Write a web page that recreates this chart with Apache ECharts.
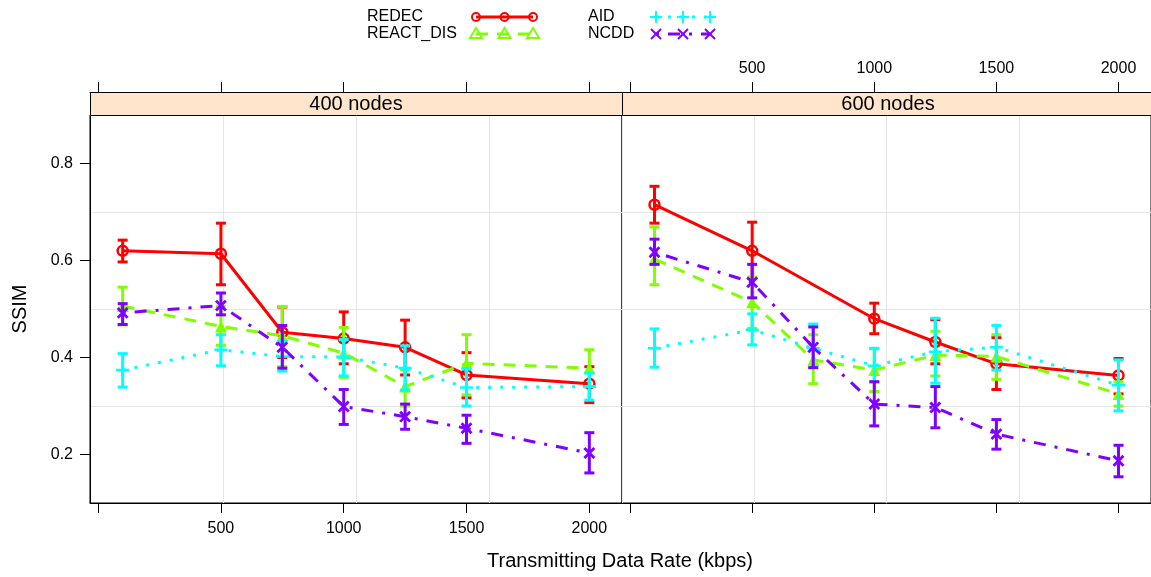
<!DOCTYPE html>
<html><head><meta charset="utf-8">
<script src="https://cdn.jsdelivr.net/npm/echarts@6/dist/echarts.min.js"></script>
<style>html,body{margin:0;padding:0;background:#fff}#c{width:1151px;height:577px}</style>
</head><body><div id="c"></div>
<script>
// ---------- data ----------
const rates = [100, 500, 750, 1000, 1250, 1500, 2000];
const seriesNames = ['REDEC', 'REACT_DIS', 'AID', 'NCDD'];
const panelNames = ['400 nodes', '600 nodes'];
const xTicks = [0, 500, 1000, 1500, 2000];
const xTickLabels = [500, 1000, 1500, 2000];
const yTicks = [0.2, 0.4, 0.6, 0.8];
const xTitle = 'Transmitting Data Rate (kbps)';
const yTitle = 'SSIM';

// 400 nodes
const redec400   = [0.620, 0.614, 0.452, 0.439, 0.421, 0.364, 0.346];
const redec400Lo = [0.597, 0.550, 0.400, 0.387, 0.364, 0.317, 0.307];
const redec400Hi = [0.642, 0.677, 0.504, 0.494, 0.477, 0.410, 0.381];
const react400   = [0.506, 0.464, 0.445, 0.409, 0.340, 0.388, 0.378];
const react400Lo = [0.467, 0.425, 0.381, 0.359, 0.300, 0.323, 0.340];
const react400Hi = [0.545, 0.505, 0.505, 0.462, 0.375, 0.447, 0.416];
const aid400     = [0.374, 0.416, 0.402, 0.401, 0.378, 0.338, 0.340];
const aid400Lo   = [0.339, 0.383, 0.372, 0.362, 0.333, 0.300, 0.312];
const aid400Hi   = [0.408, 0.447, 0.433, 0.437, 0.424, 0.376, 0.368];
const ncdd400    = [0.492, 0.507, 0.421, 0.299, 0.278, 0.254, 0.203];
const ncdd400Lo  = [0.468, 0.488, 0.378, 0.262, 0.252, 0.223, 0.162];
const ncdd400Hi  = [0.511, 0.533, 0.466, 0.334, 0.304, 0.281, 0.245];

// 600 nodes
const redec600   = [0.715, 0.620, null, 0.480, 0.432, 0.387, 0.363];
const redec600Lo = [0.677, 0.563, null, 0.449, 0.387, 0.334, 0.325];
const redec600Hi = [0.753, 0.679, null, 0.512, 0.478, 0.441, 0.398];
const react600   = [0.603, 0.514, 0.395, 0.374, 0.405, 0.402, 0.325];
const react600Lo = [0.550, 0.460, 0.346, 0.330, 0.362, 0.355, 0.300];
const react600Hi = [0.669, 0.566, 0.447, 0.418, 0.454, 0.447, 0.350];
const aid600     = [0.419, 0.457, 0.419, 0.383, 0.412, 0.421, 0.343];
const aid600Lo   = [0.380, 0.426, 0.380, 0.350, 0.347, 0.374, 0.290];
const aid600Hi   = [0.459, 0.490, 0.469, 0.419, 0.481, 0.466, 0.395];
const ncdd600    = [0.617, 0.555, 0.421, 0.304, 0.297, 0.242, 0.187];
const ncdd600Lo  = [0.592, 0.523, 0.379, 0.259, 0.255, 0.211, 0.154];
const ncdd600Hi  = [0.644, 0.592, 0.463, 0.350, 0.340, 0.272, 0.219];

// ---------- styles ----------
const FONT = '"Liberation Sans", Arial, Helvetica, sans-serif';
const colors = ['#FF0000', '#80FF00', '#00FFFF', '#8000FF'];
const dashes = ['solid', [12, 9], [3, 9], [3, 9, 12, 9]];
const PLUS = 'path://M4,0H6V4H10V6H6V10H4V6H0V4H4Z';
const symbols = ['circle', 'triangle', PLUS, PLUS];
const symSizes = [10, 12, 13, 14];
const symRot = [0, 0, 0, 45];

const panels = [
  {means: [redec400, react400, aid400, ncdd400], lo: [redec400Lo, react400Lo, aid400Lo, ncdd400Lo], hi: [redec400Hi, react400Hi, aid400Hi, ncdd400Hi]},
  {means: [redec600, react600, aid600, ncdd600], lo: [redec600Lo, react600Lo, aid600Lo, ncdd600Lo], hi: [redec600Hi, react600Hi, aid600Hi, ncdd600Hi]}
];

const X_MIN = -33, X_MAX = 2133, Y_MIN = 0.1, Y_MAX = 0.9;
const PANEL_TOP = 115, PANEL_H = 388, PANEL_W = 532, STRIP_H = 23;
const panelLeft = [90, 622];

function errRender(color) {
  return function (params, api) {
    const x = api.value(0);
    const top = api.coord([x, api.value(2)]);
    const bot = api.coord([x, api.value(1)]);
    const w = 5;
    const st = {stroke: color, lineWidth: 3};
    return {type: 'group', children: [
      {type: 'line', shape: {x1: top[0], y1: top[1], x2: bot[0], y2: bot[1]}, style: st},
      {type: 'line', shape: {x1: top[0] - w, y1: top[1], x2: top[0] + w, y2: top[1]}, style: st},
      {type: 'line', shape: {x1: bot[0] - w, y1: bot[1], x2: bot[0] + w, y2: bot[1]}, style: st}
    ]};
  };
}

const grids = panelLeft.map(l => ({left: l, top: PANEL_TOP, width: PANEL_W, height: PANEL_H,
  show: true, borderColor: '#000', borderWidth: 1, backgroundColor: 'transparent', containLabel: false}));

const labelStyle = {fontFamily: FONT, fontSize: 16, color: '#000'};
function dataX(gridIndex, position, showLabels, offset) {
  return {type: 'value', gridIndex, position, offset: offset || 0, min: X_MIN, max: X_MAX,
    axisLine: {show: true, onZero: false, lineStyle: {color: '#000', width: 1}},
    axisTick: {show: true, inside: false, length: 10, customValues: xTicks, lineStyle: {color: '#000', width: 1}},
    axisLabel: {show: showLabels, customValues: xTickLabels, margin: position === 'top' ? 15 : 18,
      formatter: v => String(Math.round(v)), ...labelStyle},
    splitLine: {show: false}};
}
function gridLineX(gridIndex) {
  return {type: 'value', gridIndex, position: 'bottom', min: 0, max: 4, interval: 1,
    axisLine: {show: false, onZero: false}, axisTick: {show: false}, axisLabel: {show: false},
    splitLine: {show: true, lineStyle: {color: '#e6e6e6', width: 1}}};
}
function gridLineY(gridIndex) {
  return {type: 'value', gridIndex, position: 'left', min: 0, max: 4, interval: 1,
    axisLine: {show: false, onZero: false}, axisTick: {show: false}, axisLabel: {show: false},
    splitLine: {show: true, lineStyle: {color: '#e6e6e6', width: 1}}};
}

const xAxis = [
  dataX(0, 'bottom', true),        // 0
  dataX(0, 'top', false, STRIP_H), // 1
  dataX(1, 'bottom', false),       // 2
  dataX(1, 'top', true, STRIP_H),  // 3
  gridLineX(0),                    // 4
  gridLineX(1)                     // 5
];
const yAxis = [
  {type: 'value', gridIndex: 0, position: 'left', min: Y_MIN, max: Y_MAX,
    name: yTitle, nameLocation: 'middle', nameRotate: 90, nameGap: 60,
    nameTextStyle: {fontFamily: FONT, fontSize: 20, color: '#000'},
    axisLine: {show: true, onZero: false, lineStyle: {color: '#000'}},
    axisTick: {show: true, length: 10, customValues: yTicks, lineStyle: {color: '#000'}},
    axisLabel: {show: true, customValues: yTicks, margin: 17, formatter: v => v.toFixed(1), ...labelStyle},
    splitLine: {show: false}},
  {type: 'value', gridIndex: 1, show: false, min: Y_MIN, max: Y_MAX, axisLine: {onZero: false}},
  gridLineY(0),
  gridLineY(1)
];

const series = [];
panels.forEach((p, pi) => {
  const xi = pi === 0 ? 0 : 2, yi = pi === 0 ? 0 : 1;
  seriesNames.forEach((name, si) => {
    const pts = [], errs = [];
    rates.forEach((r, k) => {
      if (p.means[si][k] == null) return;
      pts.push([r, p.means[si][k]]);
      errs.push([r, p.lo[si][k], p.hi[si][k]]);
    });
    series.push({
      type: 'line', name, xAxisIndex: xi, yAxisIndex: yi, data: pts, z: 10 + si * 2,
      symbol: symbols[si], symbolSize: symSizes[si], symbolRotate: symRot[si], showAllSymbol: true,
      lineStyle: {color: colors[si], width: 3, type: dashes[si]},
      itemStyle: si === 0 ? {color: 'rgba(0,0,0,0)', borderColor: colors[si], borderWidth: 2.5} : {color: colors[si]},
      animation: false, silent: true
    });
    series.push({
      type: 'custom', name: name + ' err', xAxisIndex: xi, yAxisIndex: yi, data: errs, z: 11 + si * 2,
      encode: {x: 0, y: [1, 2]}, renderItem: errRender(colors[si]), animation: false, silent: true
    });
  });
});

// strips + axis title + legend (layout graphics)
const graphic = [];
panelLeft.forEach((l, i) => {
  graphic.push({type: 'rect', left: l, top: PANEL_TOP - STRIP_H, z: 50,
    shape: {width: PANEL_W, height: STRIP_H}, style: {fill: '#ffe5cc', stroke: '#000', lineWidth: 1}});
  graphic.push({type: 'text', x: l + PANEL_W / 2, y: PANEL_TOP - STRIP_H / 2 + 1, z: 51,
    style: {text: panelNames[i], fontFamily: FONT, fontSize: 20, fill: '#000', textAlign: 'center', textVerticalAlign: 'middle'}});
});
graphic.push({type: 'text', x: 620, y: 561, z: 51,
  style: {text: xTitle, fontFamily: FONT, fontSize: 20, fill: '#000', textAlign: 'center', textVerticalAlign: 'middle'}});

const legendPos = [[367, 17, 476, 533], [367, 34, 476, 533], [588, 17, 656, 710], [588, 34, 656, 710]];
function legendSymbol(si, cx, cy) {
  const c = colors[si];
  if (si === 0) return [{type: 'circle', shape: {cx, cy, r: 4}, style: {fill: 'none', stroke: c, lineWidth: 2}, z: 61}];
  if (si === 1) return [{type: 'polygon', shape: {points: [[cx, cy - 6], [cx - 6, cy + 4], [cx + 6, cy + 4]]}, style: {fill: 'none', stroke: c, lineWidth: 2}, z: 61}];
  const s = si === 2 ? 6 : 5;
  if (si === 2) return [
    {type: 'line', shape: {x1: cx - s, y1: cy, x2: cx + s, y2: cy}, style: {stroke: c, lineWidth: 2}, z: 61},
    {type: 'line', shape: {x1: cx, y1: cy - s, x2: cx, y2: cy + s}, style: {stroke: c, lineWidth: 2}, z: 61}];
  return [
    {type: 'line', shape: {x1: cx - s, y1: cy - s, x2: cx + s, y2: cy + s}, style: {stroke: c, lineWidth: 2}, z: 61},
    {type: 'line', shape: {x1: cx - s, y1: cy + s, x2: cx + s, y2: cy - s}, style: {stroke: c, lineWidth: 2}, z: 61}];
}
seriesNames.forEach((name, si) => {
  const [tx, ty, x1, x2] = legendPos[si];
  graphic.push({type: 'text', x: tx, y: ty, z: 60,
    style: {text: name, fontFamily: FONT, fontSize: 16, fill: '#000', textAlign: 'left', textVerticalAlign: 'middle'}});
  graphic.push({type: 'line', z: 60, shape: {x1, y1: ty, x2, y2: ty},
    style: {stroke: colors[si], lineWidth: 3, lineDash: dashes[si] === 'solid' ? null : dashes[si]}});
  [x1, (x1 + x2) / 2, x2].forEach(cx => legendSymbol(si, cx, ty).forEach(g => graphic.push(g)));
});

const chart = echarts.init(document.getElementById('c'), null, {renderer: 'canvas'});
chart.setOption({animation: false, backgroundColor: '#fff', grid: grids, xAxis, yAxis, series, graphic});
</script></body></html>
